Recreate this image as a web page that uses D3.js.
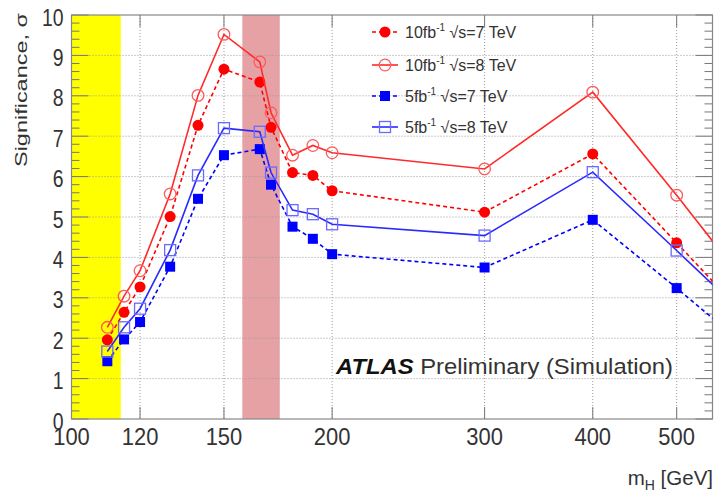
<!DOCTYPE html>
<html>
<head>
<meta charset="utf-8">
<script src="https://cdn.jsdelivr.net/npm/d3@7"></script>
<style>
  body { margin: 0; background: #fff; }
  text { font-family: "Liberation Sans", Arial, sans-serif; fill: #333; }
</style>
</head>
<body>
<div id="chart"></div>
<script>
// Masas de Higgs simuladas (GeV)
const masses = [110, 115, 120, 130, 140, 150, 165, 170, 180, 190, 200, 300, 400, 500, 600];

// Significancia esperada para cada escenario
const sig10fb7 = [1.96, 2.64, 3.27, 5.01, 7.27, 8.66, 8.34, 7.22, 6.10, 6.03, 5.65, 5.12, 6.56, 4.36, 2.55];
const sig10fb8 = [2.27, 3.04, 3.67, 5.57, 8.01, 9.52, 8.84, 7.58, 6.53, 6.77, 6.59, 6.19, 8.09, 5.54, 3.37];
const sig5fb7 = [1.43, 1.97, 2.40, 3.77, 5.45, 6.53, 6.68, 5.80, 4.76, 4.46, 4.08, 3.75, 4.93, 3.24, 1.82];
const sig5fb8 = [1.67, 2.27, 2.73, 4.18, 6.03, 7.20, 7.11, 6.10, 5.17, 5.07, 4.82, 4.54, 6.11, 4.17, 2.57];

// Bandas excluidas (LEP y Tevatron)
const lepBand = [100, 114];
const tevBand = [157.5, 174];

const xTicks = [100, 120, 150, 200, 300, 400, 500];
const yTicks = [0, 1, 2, 3, 4, 5, 6, 7, 8, 9, 10];

const width = 715;
const height = 492;

const svg = d3.select("#chart")
  .append("svg")
  .attr("width", width)
  .attr("height", height);

const x = d3.scaleLog().domain([100, 550]).range([71.5, 712.5]);
const y = d3.scaleLinear().domain([0, 10]).range([419, 15]);

const plotLeft = x.range()[0], plotRight = x.range()[1];
const plotTop = y.range()[1], plotBottom = y.range()[0];

svg.append("clipPath").attr("id", "clip")
  .append("rect")
  .attr("x", plotLeft).attr("y", plotTop)
  .attr("width", plotRight - plotLeft).attr("height", plotBottom - plotTop);

// Bandas de exclusion
svg.append("rect")
  .attr("x", x(lepBand[0])).attr("y", plotTop)
  .attr("width", x(lepBand[1]) - x(lepBand[0]))
  .attr("height", plotBottom - plotTop)
  .attr("fill", "#ffff00");

svg.append("rect")
  .attr("x", x(tevBand[0])).attr("y", plotTop)
  .attr("width", x(tevBand[1]) - x(tevBand[0]))
  .attr("height", plotBottom - plotTop)
  .attr("fill", "#e6a1a5");

// Rejilla punteada
svg.append("g").selectAll("line")
  .data(yTicks.slice(1, -1))
  .enter().append("line")
  .attr("x1", plotLeft).attr("x2", plotRight)
  .attr("y1", d => y(d)).attr("y2", d => y(d))
  .attr("stroke", "#999").attr("stroke-width", 1)
  .attr("stroke-dasharray", "1,2");

svg.append("g").selectAll("line")
  .data(xTicks.slice(1))
  .enter().append("line")
  .attr("x1", d => x(d)).attr("x2", d => x(d))
  .attr("y1", plotTop).attr("y2", plotBottom)
  .attr("stroke", "#999").attr("stroke-width", 1)
  .attr("stroke-dasharray", "1,2");

// Ticks del eje Y (izquierda y derecha)
const yMinor = d3.range(0, 10.001, 0.2);
const isMajor = d => Math.abs(d - Math.round(d)) < 1e-6;
svg.append("g").selectAll("line")
  .data(yMinor)
  .enter().append("line")
  .attr("x1", plotLeft).attr("x2", d => plotLeft + (isMajor(d) ? 17 : 8))
  .attr("y1", d => y(d)).attr("y2", d => y(d))
  .attr("stroke", "#777").attr("stroke-width", 1);

svg.append("g").selectAll("line")
  .data(yMinor)
  .enter().append("line")
  .attr("x1", plotRight).attr("x2", d => plotRight - (isMajor(d) ? 17 : 8))
  .attr("y1", d => y(d)).attr("y2", d => y(d))
  .attr("stroke", "#777").attr("stroke-width", 1);

// Ticks del eje X (abajo y arriba)
svg.append("g").selectAll("line")
  .data(xTicks.slice(1))
  .enter().append("line")
  .attr("x1", d => x(d)).attr("x2", d => x(d))
  .attr("y1", plotBottom).attr("y2", plotBottom - 12)
  .attr("stroke", "#777").attr("stroke-width", 1);

svg.append("g").selectAll("line")
  .data(xTicks.slice(1))
  .enter().append("line")
  .attr("x1", d => x(d)).attr("x2", d => x(d))
  .attr("y1", plotTop).attr("y2", plotTop + 12)
  .attr("stroke", "#777").attr("stroke-width", 1);

// Marco
svg.append("rect")
  .attr("x", plotLeft).attr("y", plotTop)
  .attr("width", plotRight - plotLeft).attr("height", plotBottom - plotTop)
  .attr("fill", "none").attr("stroke", "#888").attr("stroke-width", 1.2);

// Etiquetas de ticks (fuente algo estrecha, como en la figura)
svg.append("g").selectAll("text")
  .data(yTicks)
  .enter().append("text")
  .attr("x", 63.5)
  .attr("y", d => y(d) + 10.5)
  .attr("text-anchor", "end")
  .attr("font-size", 23)
  .attr("textLength", d => String(d).length * 10.8)
  .attr("lengthAdjust", "spacingAndGlyphs")
  .text(d => d);

svg.append("g").selectAll("text")
  .data(xTicks)
  .enter().append("text")
  .attr("x", d => x(d))
  .attr("y", 445)
  .attr("text-anchor", "middle")
  .attr("font-size", 24.5)
  .attr("textLength", 36.6)
  .attr("lengthAdjust", "spacingAndGlyphs")
  .text(d => d);

// Titulos de ejes
svg.append("text")
  .attr("transform", "translate(27,13) rotate(-90)")
  .attr("text-anchor", "end")
  .attr("font-size", 17)
  .attr("textLength", 154)
  .attr("lengthAdjust", "spacingAndGlyphs")
  .text("Significance, σ");

const xt = svg.append("text")
  .attr("x", 713).attr("y", 485)
  .attr("text-anchor", "end")
  .attr("font-size", 20.5);
xt.append("tspan").text("m");
xt.append("tspan").attr("font-size", 14).attr("dy", 5).text("H");
xt.append("tspan").attr("dy", -5).text(" [GeV]");

// Series
const series = [
  { label: "10fb", energy: "7", values: sig10fb7, color: "#ff0000", stroke: "#ff0000", dash: "4,3", marker: "circle", filled: true },
  { label: "10fb", energy: "8", values: sig10fb8, color: "#ff2a2a", stroke: "#ff5a5a", dash: null, marker: "circle", filled: false },
  { label: "5fb", energy: "7", values: sig5fb7, color: "#0000ff", stroke: "#0000ff", dash: "4,3", marker: "square", filled: true },
  { label: "5fb", energy: "8", values: sig5fb8, color: "#2a2aff", stroke: "#6a6aff", dash: null, marker: "square", filled: false }
];

const line = d3.line()
  .x(d => x(d[0]))
  .y(d => y(d[1]));

const plot = svg.append("g").attr("clip-path", "url(#clip)");

function drawMarker(g, s, cx, cy) {
  if (s.marker === "circle") {
    g.append("circle")
      .attr("cx", cx).attr("cy", cy).attr("r", s.filled ? 5.5 : 5.8)
      .attr("fill", s.filled ? s.color : "none")
      .attr("stroke", s.stroke).attr("stroke-width", s.filled ? 0 : 1.3);
  } else {
    const sz = s.filled ? 10 : 11;
    g.append("rect")
      .attr("x", cx - sz / 2).attr("y", cy - sz / 2)
      .attr("width", sz).attr("height", sz)
      .attr("fill", s.filled ? s.color : "none")
      .attr("stroke", s.stroke).attr("stroke-width", s.filled ? 0 : 1.3);
  }
}

series.forEach(s => {
  const pts = masses.map((m, i) => [m, s.values[i]]);
  plot.append("path")
    .datum(pts)
    .attr("d", line)
    .attr("fill", "none")
    .attr("stroke", s.color)
    .attr("stroke-width", 1.6)
    .attr("stroke-dasharray", s.dash);
  const g = plot.append("g");
  pts.forEach(p => drawMarker(g, s, x(p[0]), y(p[1])));
});

// Leyenda
const legendY = [32, 65, 96, 127];
series.forEach((s, i) => {
  const ly = legendY[i];
  svg.append("line")
    .attr("x1", 372).attr("x2", 398)
    .attr("y1", ly).attr("y2", ly)
    .attr("stroke", s.color).attr("stroke-width", 1.6)
    .attr("stroke-dasharray", s.dash);
  drawMarker(svg.append("g"), s, 385, ly);
  const t = svg.append("text")
    .attr("x", 405).attr("y", ly + 6)
    .attr("font-size", 16);
  t.append("tspan").text(s.label);
  t.append("tspan").attr("font-size", 10).attr("dy", -7).text("-1");
  t.append("tspan").attr("dy", 7).text(" √s=" + s.energy + " TeV");
});

// Etiqueta ATLAS
const atlas = svg.append("text")
  .attr("x", 336).attr("y", 374)
  .attr("font-size", 22)
  .attr("textLength", 337)
  .attr("lengthAdjust", "spacingAndGlyphs");
atlas.append("tspan").attr("font-weight", "bold").attr("font-style", "italic").attr("fill", "#111").text("ATLAS");
atlas.append("tspan").text(" Preliminary (Simulation)");
</script>
</body>
</html>
